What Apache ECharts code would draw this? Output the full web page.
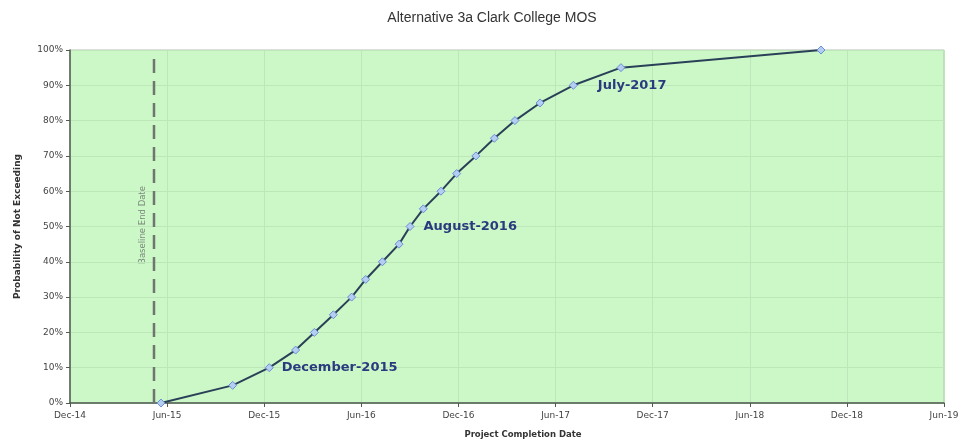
<!DOCTYPE html>
<html>
<head>
<meta charset="utf-8">
<script src="https://cdn.jsdelivr.net/npm/echarts@6/dist/echarts.min.js"></script>
<style>html,body{margin:0;padding:0;background:#fff}#c{width:958px;height:444px}</style>
</head>
<body>
<div id="c"></div>
<script>
// Months elapsed since Dec-2014
const xTickLabels = ['Dec-14','Jun-15','Dec-15','Jun-16','Dec-16','Jun-17','Dec-17','Jun-18','Dec-18','Jun-19'];
const completionMonths = [5.62,10.05,12.31,13.94,15.10,16.27,17.40,18.27,19.30,20.33,21.01,21.83,22.92,23.89,25.08,26.22,27.49,29.04,31.10,34.04,46.40];
const probability = [0,5,10,15,20,25,30,35,40,45,50,55,60,65,70,75,80,85,90,95,100];
const annotations = {10:'December-2015', 50:'August-2016', 90:'July-2017'};
const baselineMonth = 5.19;
const baselineSpan = [0, 97.7];

const labelDist = {10:8, 50:9, 90:20};
const curve = completionMonths.map((m,i)=>{
  const p = probability[i];
  const item = {value:[m,p]};
  if (annotations[p]) {
    item.label = {show:true, position:'right', distance:labelDist[p], formatter:annotations[p],
      fontFamily:'DejaVu Sans', fontWeight:'bold', fontSize:13, color:'#2a3a7e'};
  }
  return item;
});

const chart = echarts.init(document.getElementById('c'), null, {renderer:'canvas'});
chart.setOption({
  animation:false,
  backgroundColor:'#ffffff',
  title:{text:'Alternative 3a Clark College MOS', left:487, top:6, textAlign:'center',
    textStyle:{fontFamily:'Liberation Sans', fontSize:14, fontWeight:'normal', color:'#333'}},
  grid:{left:70, right:14, top:50, bottom:41, outerBoundsMode:'none', containLabel:false,
    show:true, backgroundColor:'#ccf8c8', borderColor:'#b8c0b8', borderWidth:1},
  xAxis:{type:'value', min:0, max:54, interval:6,
    name:'Project Completion Date', nameLocation:'middle', nameGap:27,
    nameTextStyle:{fontFamily:'DejaVu Sans', fontSize:8.5, fontWeight:'bold', color:'#333', padding:[0,0,0,32]},
    axisLine:{lineStyle:{color:'#505a50', width:1.5}},
    axisTick:{show:true, length:4, inside:false, lineStyle:{color:'#505a50'}},
    axisLabel:{formatter:v=>xTickLabels[Math.round(v/6)], fontFamily:'DejaVu Sans', fontSize:9, color:'#444', margin:8},
    splitLine:{show:true, lineStyle:{color:'#bde6b9', width:1}}},
  yAxis:{type:'value', min:0, max:100, interval:10,
    name:'Probability of Not Exceeding', nameLocation:'middle', nameGap:48,
    nameTextStyle:{fontFamily:'DejaVu Sans', fontSize:9, fontWeight:'bold', color:'#333'},
    axisLine:{show:true, lineStyle:{color:'#505a50', width:1.5}},
    axisTick:{show:true, length:4, lineStyle:{color:'#505a50'}},
    axisLabel:{formatter:'{value}%', fontFamily:'DejaVu Sans', fontSize:9, color:'#444', margin:7},
    splitLine:{show:true, lineStyle:{color:'#bde6b9', width:1}}},
  series:[
    {type:'line', data:[[baselineMonth, baselineSpan[0]],[baselineMonth, baselineSpan[1]]],
      showSymbol:false, symbol:'none', silent:true,
      lineStyle:{color:'#6f756f', width:2.5, type:[14,8]}, z:2},
    {type:'line', data:curve, symbol:'diamond', symbolSize:8,
      lineStyle:{color:'#2a4058', width:2},
      itemStyle:{color:'#b4cdf0', borderColor:'#6b8fd6', borderWidth:1}, z:3}
  ],
  graphic:[
    {type:'text', x:143, y:225, rotation:Math.PI/2,
      style:{text:'Baseline End Date', fontFamily:'DejaVu Sans', fontSize:8.5, fill:'#7a8a7a', align:'center', verticalAlign:'middle'}}
  ]
});
</script>
</body>
</html>
